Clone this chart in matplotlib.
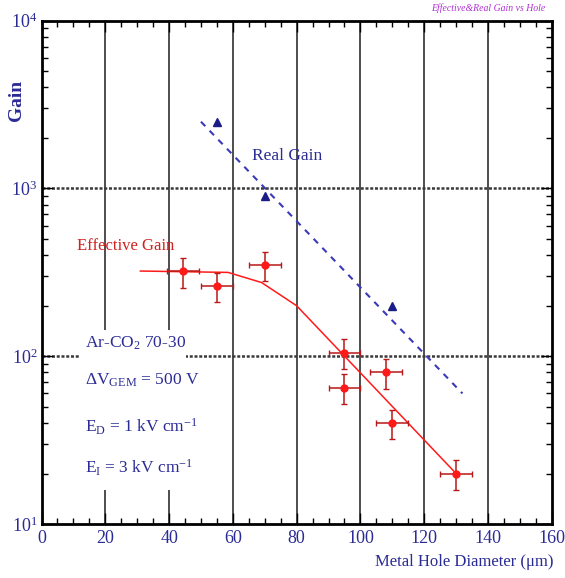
import matplotlib
matplotlib.use("Agg")
import matplotlib.pyplot as plt
from matplotlib.patches import Rectangle
from matplotlib.ticker import MultipleLocator, LogLocator, LogFormatterMathtext, NullFormatter

plt.rcParams['font.family'] = ['Liberation Serif', 'DejaVu Serif']
plt.rcParams['mathtext.fontset'] = 'custom'
plt.rcParams['mathtext.rm'] = 'Liberation Serif'
plt.rcParams['mathtext.it'] = 'Liberation Serif:italic'
plt.rcParams['mathtext.bf'] = 'Liberation Serif:bold'

# effective gain measurements
eff_x = [44.5, 55, 70, 95, 95, 108, 110, 130]
eff_y = [320, 262, 350, 105, 65, 80, 40, 20]
eff_xerr = [5, 5, 5, 5, 5, 5, 5, 5]
eff_yerr = [64, 52, 70, 21, 13, 16, 8, 4]

# effective gain curve
eff_fit_x = [31, 58.5, 69, 80, 130]
eff_fit_y = [322, 316, 275, 200, 20]

# real gain measurements and fit
real_x = [55, 70, 110]
real_y = [2480, 900, 198]
real_fit_x = [50, 132]
real_fit_y = [2500, 60]

blue = '#2b2b96'
navy = '#1c1c86'
red = '#ff1a1a'
dark_red = '#b81818'

fig = plt.figure(figsize=(5.65, 5.78), dpi=100)
ax = fig.add_axes([0.0735, 0.0934, 0.903, 0.8708])

ax.set_xlim(0, 160)
ax.set_yscale('log')
ax.set_ylim(10, 1e4)

# grid
ax.set_axisbelow(True)
for gx in [20, 40, 60, 80, 100, 120, 140]:
    ax.axvline(gx, color='#303030', lw=1.2, zorder=0.5)
for gy in [100, 1000]:
    ax.axhline(gy, color='#3a3a3a', lw=1.8, ls=(0, (1.2, 0.7)), zorder=0.5)

# white box behind the conditions text
ax.add_patch(Rectangle((0.0755, 0.0676), 0.2075, 0.3174, transform=ax.transAxes,
                       facecolor='white', edgecolor='none', zorder=1))

ax.plot(real_fit_x, real_fit_y, color='#3a3ab8', lw=1.5, ls=(0, (3, 3)), zorder=2)
ax.plot(real_x, real_y, ls='none', marker='^', ms=6, color=navy, zorder=3)

ax.plot(eff_fit_x, eff_fit_y, color=red, lw=1.1, zorder=2)
ax.errorbar(eff_x, eff_y, xerr=eff_xerr, yerr=eff_yerr, fmt='o', ms=5,
            color=red, ecolor=dark_red, elinewidth=1.1, capsize=2.5,
            capthick=1.0, zorder=3)

# ticks
ax.xaxis.set_major_locator(MultipleLocator(20))
ax.xaxis.set_minor_locator(MultipleLocator(5))
ax.yaxis.set_major_locator(LogLocator(base=10))
ax.yaxis.set_minor_locator(LogLocator(base=10, subs=range(2, 10)))
ax.yaxis.set_major_formatter(LogFormatterMathtext())
ax.yaxis.set_minor_formatter(NullFormatter())
ax.tick_params(which='both', direction='in', top=True, right=True,
               colors='black', labelcolor=blue, width=1)
ax.tick_params(which='major', length=8, labelsize=13)
ax.tick_params(which='minor', length=4)
ax.tick_params(axis='x', pad=4)
ax.tick_params(axis='y', pad=3)
for s in ax.spines.values():
    s.set_linewidth(2)

ax.text(-0.049, 0.842, 'Gain', transform=ax.transAxes, rotation=90,
        ha='center', va='center', color=blue, fontsize=14, fontweight='bold')
ax.text(1.003, -0.075, 'Metal Hole Diameter (\u03bcm)', transform=ax.transAxes,
        ha='right', va='center', color=blue, fontsize=12)
fig.text(0.966, 0.986, 'Effective&Real Gain vs Hole', ha='right', va='center',
         color='#b030d0', fontsize=7, style='italic')

ax.text(66, 1570, 'Real Gain', color=blue, fontsize=12.5, va='center', zorder=4)
ax.text(11, 456, 'Effective Gain', color='#d02020', fontsize=12, va='center', zorder=4)

ax.text(13.6, 119, r'Ar-CO$_{\mathrm{2}}$ 70-30', color=blue, fontsize=12.5, va='center', zorder=4)
ax.text(13.6, 72, '\u0394V$_{\\mathrm{GEM}}$ = 500 V', color=blue, fontsize=12.5, va='center', zorder=4)
ax.text(13.6, 38, r'E$_{\mathrm{D}}$ = 1 kV cm$^{\mathrm{-1}}$', color=blue, fontsize=12.5, va='center', zorder=4)
ax.text(13.6, 21.5, r'E$_{\mathrm{I}}$ = 3 kV cm$^{\mathrm{-1}}$', color=blue, fontsize=12.5, va='center', zorder=4)

fig.savefig('out.png', dpi=100)
